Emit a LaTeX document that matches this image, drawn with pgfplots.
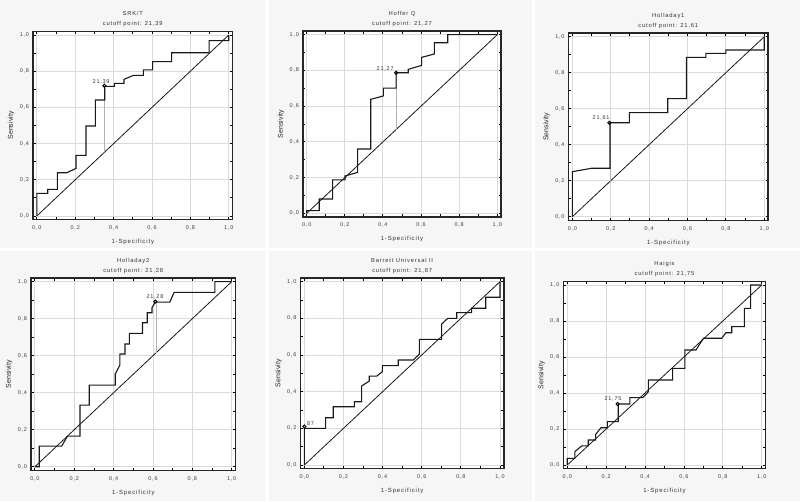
\documentclass[border=0pt]{standalone}
\usepackage{fontspec}
\setmainfont{Liberation Sans}
\newfontfamily\spc[LetterSpace=14]{Liberation Sans}
\usepackage{pgfplots}
\pgfplotsset{compat=1.18}
\definecolor{panelbg}{HTML}{F6F6F6}
\definecolor{gridc}{HTML}{DADADA}

\pgfplotsset{
  roc/.style={
    scale only axis, anchor=south west,
    xmin=-0.02, xmax=1.02, ymin=-0.02, ymax=1.02,
    xtick={0,0.2,0.4,0.6,0.8,1}, ytick={0,0.2,0.4,0.6,0.8,1},
    minor tick num=1,
    tick align=inside, major tick length=2.5pt, minor tick length=2.5pt,
    tick style={black, line width=0.9pt},
    grid=major, major grid style={gridc, line width=0.9pt},
    axis line style={line width=1.5pt, black!85},
    axis background/.style={fill=white},
    /pgf/number format/.cd, use comma, fixed, fixed zerofill, precision=1,
      assume math mode=true, /pgfplots/.cd,
    tick label style={font=\spc\fontsize{5.5}{6}\selectfont, black!75},
    xticklabel style={yshift=-2.5pt},
    yticklabel style={xshift=-0.5pt},
    xlabel={1-Specificity}, ylabel={Sensivity},
    xlabel style={font=\spc\fontsize{6}{7}\selectfont, black!80, yshift=-2pt},
    ylabel style={font=\fontsize{7}{8}\selectfont, black!85, yshift=-1.5pt},
    title style={font=\spc\fontsize{5.8}{10}\selectfont, align=center, black!80, yshift=-5pt},
  },
  curve/.style={black!90, line width=1.1pt, mark=none},
  diag/.style={black!90, line width=0.8pt, mark=none},
  cutline/.style={gray!60, line width=0.7pt, mark=none},
  cutmark/.style={only marks, mark=o, mark size=1.6pt, black, line width=0.9pt},
}
\tikzset{cutlabel/.style={font=\spc\fontsize{5.5}{6}\selectfont, black!80, inner sep=1pt}}

\begin{document}
\begin{tikzpicture}
\useasboundingbox (0pt,0pt) rectangle (800pt,501pt);
% panel backgrounds
\fill[panelbg] (0pt,253pt) rectangle (265pt,501pt);
\fill[panelbg] (269pt,253pt) rectangle (532pt,501pt);
\fill[panelbg] (535pt,253pt) rectangle (800pt,501pt);
\fill[panelbg] (0pt,0pt) rectangle (265pt,250pt);
\fill[panelbg] (269pt,0pt) rectangle (532pt,250pt);
\fill[panelbg] (535pt,0pt) rectangle (800pt,250pt);

% SRK/T
\begin{axis}[roc, at={(33pt,281.4pt)}, width=199.6pt, height=188.2pt,
  title={SRK/T\\cutoff point: 21,39}]
\addplot[diag] coordinates {(0,0) (1,1)};
\addplot[cutline] coordinates {(0.354,0.716) (0.354,0.354)};
\addplot[curve] coordinates {(0,0)(0,0.125)(0.057,0.125)(0.057,0.147)(0.107,0.147)(0.107,0.239)(0.156,0.239)(0.204,0.263)(0.204,0.335)(0.256,0.335)(0.256,0.497)(0.305,0.497)(0.305,0.641)(0.354,0.641)(0.354,0.716)(0.404,0.716)(0.404,0.733)(0.454,0.733)(0.454,0.755)(0.503,0.777)(0.555,0.777)(0.555,0.807)(0.603,0.807)(0.603,0.853)(0.702,0.853)(0.702,0.902)(0.898,0.902)(0.898,0.969)(1,0.969)(1,1)};
\addplot[cutmark] coordinates {(0.352,0.72)};
\node[cutlabel, anchor=south] at (axis cs:0.335,0.72) {21,39};
\end{axis}

% Hoffer Q
\begin{axis}[roc, at={(302.9pt,284.1pt)}, width=198.2pt, height=185.8pt,
  title={Hoffer Q\\cutoff point: 21,27}]
\addplot[diag] coordinates {(0,0) (1,1)};
\addplot[cutline] coordinates {(0.469,0.787) (0.469,0.469)};
\addplot[curve] coordinates {(0,0)(0,0.015)(0.066,0.015)(0.066,0.080)(0.136,0.080)(0.136,0.187)(0.201,0.187)(0.201,0.209)(0.267,0.229)(0.267,0.36)(0.336,0.36)(0.336,0.638)(0.402,0.657)(0.402,0.701)(0.469,0.701)(0.469,0.787)(0.533,0.787)(0.533,0.806)(0.603,0.828)(0.603,0.873)(0.67,0.892)(0.67,0.955)(0.74,0.955)(0.74,1)(1,1)};
\addplot[cutmark] coordinates {(0.469,0.787)};
\node[cutlabel, anchor=south east] at (axis cs:0.462,0.79) {21,27};
\end{axis}

% Holladay1
\begin{axis}[roc, at={(568.5pt,280.7pt)}, width=199.6pt, height=187.2pt,
  title={Holladay1\\cutoff point: 21,61}]
\addplot[diag] coordinates {(0,0) (1,1)};
\addplot[cutline] coordinates {(0.196,0.522) (0.196,0.196)};
\addplot[curve] coordinates {(0,0)(0,0.25)(0.1,0.269)(0.196,0.269)(0.196,0.522)(0.297,0.522)(0.297,0.578)(0.497,0.578)(0.497,0.656)(0.595,0.656)(0.595,0.885)(0.696,0.885)(0.696,0.907)(0.8,0.907)(0.8,0.926)(1,0.926)(1,1)};
\addplot[cutmark] coordinates {(0.193,0.522)};
\node[cutlabel, anchor=south east] at (axis cs:0.2,0.53) {21,61};
\end{axis}

% Holladay2
\begin{axis}[roc, at={(31pt,30.6pt)}, width=204.6pt, height=192.4pt,
  title={Holladay2\\cutoff point: 21,28}]
\addplot[diag] coordinates {(0,0) (1,1)};
\addplot[cutline] coordinates {(0.615,0.89) (0.615,0.615)};
\addplot[curve] coordinates {(0,0)(0.022,0)(0.022,0.111)(0.136,0.111)(0.165,0.165)(0.229,0.165)(0.229,0.333)(0.276,0.333)(0.276,0.441)(0.408,0.441)(0.408,0.5)(0.432,0.55)(0.432,0.609)(0.458,0.609)(0.458,0.663)(0.48,0.663)(0.48,0.721)(0.547,0.721)(0.547,0.778)(0.571,0.778)(0.571,0.832)(0.595,0.832)(0.595,0.86)(0.612,0.89)(0.686,0.89)(0.707,0.942)(0.915,0.942)(0.915,1)(1,1)};
\addplot[cutmark] coordinates {(0.612,0.893)};
\node[cutlabel, anchor=south] at (axis cs:0.61,0.9) {21,28};
\end{axis}

% Barrett Universal II
\begin{axis}[roc, at={(300.4pt,32.3pt)}, width=203.5pt, height=190.7pt,
  title={Barrett Universal II\\cutoff point: 21,87}]
\addplot[diag] coordinates {(0,0) (1,1)};
\addplot[curve] coordinates {(0,0)(0,0.2)(0.109,0.2)(0.109,0.258)(0.148,0.258)(0.148,0.318)(0.256,0.318)(0.256,0.345)(0.293,0.345)(0.293,0.431)(0.332,0.458)(0.332,0.485)(0.37,0.485)(0.399,0.509)(0.399,0.542)(0.48,0.542)(0.48,0.573)(0.557,0.573)(0.588,0.605)(0.588,0.685)(0.702,0.685)(0.702,0.769)(0.733,0.8)(0.779,0.8)(0.779,0.831)(0.855,0.831)(0.855,0.855)(0.927,0.855)(0.927,0.915)(1,0.915)(1,1)};
\addplot[cutmark] coordinates {(0,0.21)};
\node[cutlabel, anchor=south west] at (axis cs:0.008,0.21) {87};
\end{axis}

% Haigis
\begin{axis}[roc, at={(563.4pt,32.4pt)}, width=202.2pt, height=187.2pt,
  title={Haigis\\cutoff point: 21,75}]
\addplot[diag] coordinates {(0,0) (1,1)};
\addplot[cutline] coordinates {(0.262,0.339) (0.262,0.262)};
\addplot[curve] coordinates {(0,0)(0,0.037)(0.039,0.037)(0.039,0.074)(0.074,0.106)(0.108,0.106)(0.108,0.139)(0.146,0.139)(0.146,0.17)(0.173,0.207)(0.206,0.207)(0.206,0.241)(0.262,0.241)(0.262,0.339)(0.322,0.339)(0.322,0.374)(0.388,0.374)(0.417,0.407)(0.417,0.472)(0.542,0.472)(0.542,0.537)(0.605,0.537)(0.605,0.639)(0.662,0.639)(0.7,0.704)(0.794,0.704)(0.816,0.735)(0.846,0.735)(0.846,0.769)(0.911,0.769)(0.911,0.87)(0.943,0.87)(0.943,1)(1,1)};
\addplot[cutmark] coordinates {(0.259,0.339)};
\node[cutlabel, anchor=south] at (axis cs:0.235,0.345) {21,75};
\end{axis}
\end{tikzpicture}
\end{document}
